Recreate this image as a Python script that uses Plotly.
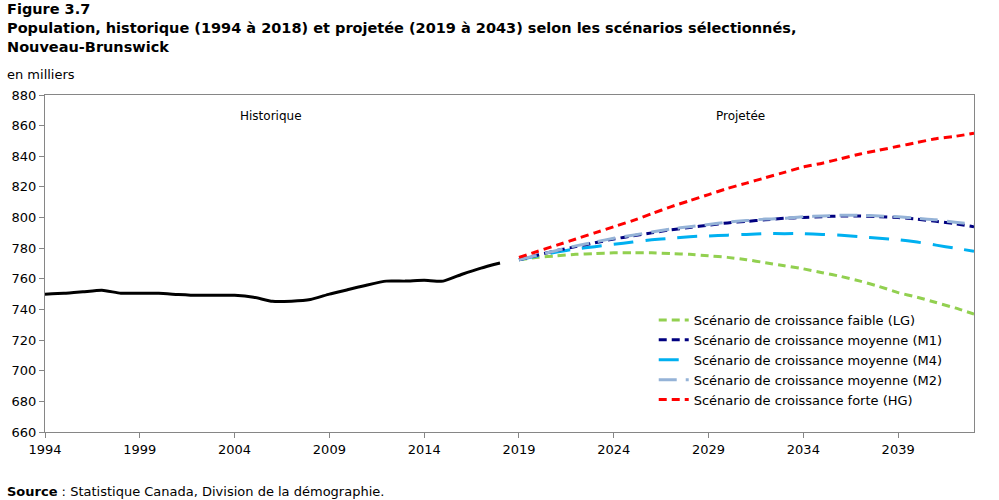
import plotly.graph_objects as go

hist_years = list(range(1994, 2019))
hist_values = [750.0, 750.5, 751.5, 752.5, 750.6, 750.6, 750.5, 749.8, 749.2, 749.3,
               749.2, 748.0, 745.3, 745.4, 746.5, 750.0, 753.0, 756.0, 758.5, 758.5,
               759.0, 758.5, 763.0, 767.0, 770.3]

proj_years = list(range(2019, 2044))
lg = [772.5, 774.0, 775.0, 776.0, 776.5, 777.0, 777.0, 777.0, 776.5, 776.0,
      775.0, 774.0, 772.5, 770.5, 768.5, 766.5, 764.0, 761.5, 758.5, 755.0,
      751.0, 748.0, 744.5, 741.0, 737.0]
m1 = [772.5, 775.5, 778.5, 781.0, 783.5, 786.0, 788.0, 790.0, 792.0, 793.5,
      795.0, 796.5, 797.5, 798.5, 799.5, 800.0, 800.5, 801.0, 801.0, 800.5,
      800.0, 799.0, 797.5, 796.0, 794.0]
m4 = [772.5, 775.0, 777.5, 779.5, 781.0, 782.5, 784.0, 785.5, 786.5, 787.5,
      788.0, 788.5, 789.0, 789.5, 789.5, 789.5, 789.0, 788.5, 787.5, 786.5,
      785.5, 784.0, 782.0, 780.0, 778.0]
m2 = [772.5, 775.5, 778.5, 781.5, 784.0, 786.5, 788.5, 790.5, 792.5, 794.0,
      795.5, 797.0, 798.0, 799.0, 799.5, 800.5, 801.0, 801.5, 801.5, 801.0,
      800.5, 799.5, 798.5, 797.0, 795.5]
hg = [774.0, 778.0, 782.0, 786.0, 790.0, 794.0, 798.0, 802.5, 807.0, 811.0,
      815.0, 819.0, 822.5, 826.0, 829.5, 833.0, 835.5, 838.5, 841.5, 844.0,
      846.5, 849.0, 851.5, 853.0, 855.0]

series_names = ["Scénario de croissance faible (LG)",
                "Scénario de croissance moyenne (M1)",
                "Scénario de croissance moyenne (M4)",
                "Scénario de croissance moyenne (M2)",
                "Scénario de croissance forte (HG)"]

x_ticks = list(range(1994, 2044, 5))
y_ticks = list(range(660, 881, 20))

FONT = "DejaVu Sans"

fig = go.Figure()
fig.add_trace(go.Scatter(x=hist_years, y=hist_values, mode="lines", showlegend=False,
                         line=dict(color="black", width=3, shape="spline", smoothing=0.5)))

styles = [
    (lg, "#92D050", "8px,5px", 3, 1),
    (m1, "#000080", "8px,5px", 3, 2),
    (m4, "#00B0F0", "20px,12px", 3, 3),
    (m2, "#95B3D7", "18px,9px", 3, 4),
    (hg, "#FF0000", "8px,5px", 3, 5),
]
traces = {}
for (vals, col, dash, w, rank), name in zip(styles, series_names):
    traces[rank] = go.Scatter(x=proj_years, y=vals, mode="lines", name=name, legendrank=rank,
                              line=dict(color=col, width=w, dash=dash, shape="spline", smoothing=0.5))
for r in [1, 3, 2, 4, 5]:
    fig.add_trace(traces[r])

L, R, T, B = 40, 974, 95, 432
W, H = R - L, B - T
def px(x):
    return (x - L) / W
def py(y):
    return (B - y) / H

title_text = ("<b>Figure 3.7</b><br>"
              "<b>Population, historique (1994 à 2018) et projetée (2019 à 2043) selon les scénarios sélectionnés,</b><br>"
              "<b>Nouveau-Brunswick</b>")
fig.add_annotation(xref="paper", yref="paper", x=px(0), y=py(-1.5), xanchor="left", yanchor="top",
                   align="left", showarrow=False, text=title_text,
                   font=dict(family=FONT, size=14.5, color="black"))
fig.add_annotation(xref="paper", yref="paper", x=px(0), y=py(75), xanchor="left", yanchor="middle",
                   showarrow=False, text="en milliers", font=dict(family=FONT, size=13, color="black"))
fig.add_annotation(xref="paper", yref="paper", x=px(0), y=py(491), xanchor="left", yanchor="middle",
                   showarrow=False, text="<b>Source</b> : Statistique Canada, Division de la démographie.",
                   font=dict(family=FONT, size=13, color="black"))
fig.add_annotation(xref="paper", yref="paper", x=px(267), y=py(116), text="Historique",
                   showarrow=False, xanchor="center", yanchor="middle",
                   font=dict(family=FONT, size=12, color="black"))
fig.add_annotation(xref="paper", yref="paper", x=px(739), y=py(116), text="Projetée",
                   showarrow=False, xanchor="center", yanchor="middle",
                   font=dict(family=FONT, size=12, color="black"))

fig.update_layout(
    width=999, height=500,
    margin=dict(l=L, r=999 - R, t=T, b=500 - B, pad=0),
    paper_bgcolor="white", plot_bgcolor="white",
    font=dict(family=FONT, size=13, color="black"),
    legend=dict(x=px(652), y=py(305), xanchor="left", yanchor="top",
                bgcolor="rgba(0,0,0,0)", font=dict(family=FONT, size=13),
                tracegroupgap=0, traceorder="normal"),
    xaxis=dict(range=[1994, 2043], tickvals=x_ticks, ticktext=[str(t) for t in x_ticks],
               showgrid=False, zeroline=False, showline=True, linecolor="#868686",
               linewidth=1, mirror=True, ticks="outside", ticklen=5, tickcolor="#868686",
               tickfont=dict(size=13)),
    yaxis=dict(range=[660, 880], tickvals=y_ticks, showgrid=False, zeroline=False,
               showline=True, linecolor="#868686", linewidth=1, mirror=True,
               ticks="outside", ticklen=5, tickcolor="#868686", tickfont=dict(size=13)),
)

fig.write_html("out.html")
